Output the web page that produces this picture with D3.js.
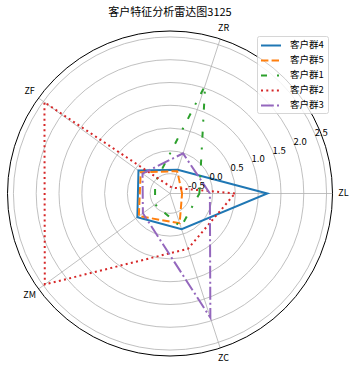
<!DOCTYPE html>
<html><head><meta charset="utf-8">
<script src="https://cdn.jsdelivr.net/npm/d3@7"></script>
<style>body{margin:0;background:#fff;}svg{display:block;font-family:"Noto Sans CJK SC","DejaVu Sans",sans-serif;}</style>
</head><body>
<svg id="c" width="359" height="374"></svg>
<script>
const title = "客户特征分析雷达图3125";
const categories = ["ZL", "ZR", "ZF", "ZM", "ZC"];
const seriesNames = ["客户群4", "客户群5", "客户群1", "客户群2", "客户群3"];
const group4 = [1.20, -0.39, -0.08, -0.05, -0.11];
const group5 = [-0.67, -0.42, -0.14, -0.09, -0.25];
const group1 = [-0.29, 1.56, -0.53, -0.53, -0.16];
const group2 = [0.49, -0.80, 2.47, 2.46, 0.34];
const group3 = [-0.06, -0.01, -0.19, -0.20, 1.93];
const radialTicks = [-0.5, 0.0, 0.5, 1.0, 1.5, 2.0, 2.5];
const rDomain = [-0.935, 2.63];

const seriesValues = [group4, group5, group1, group2, group3];
const colors = ["#1f77b4", "#ff7f0e", "#2ca02c", "#d62728", "#9467bd"];
const dashes = [null, "7.4,3.2", "6,10,2,10", "2,3.3", "12.8,3.2,2,3.2"];

const svg = d3.select("#c");
const cx = 170, cy = 193.5, R = 162.5;
const r = d3.scaleLinear().domain(rDomain).range([0, R]);
const theta = d3.scalePoint().domain(categories).range([0, 2 * Math.PI * 4 / 5]);
const g = svg.append("g").attr("transform", `translate(${cx},${cy})`);
const pt = (a, rad) => [rad * Math.cos(a), -rad * Math.sin(a)];

// grid circles
g.selectAll("circle.grid").data(radialTicks).join("circle")
  .attr("r", d => r(d)).attr("fill", "none").attr("stroke", "#b0b0b0").attr("stroke-width", 0.8);
// spokes
g.selectAll("line.spoke").data(categories).join("line")
  .attr("x1", 0).attr("y1", 0)
  .attr("x2", d => pt(theta(d), R)[0]).attr("y2", d => pt(theta(d), R)[1])
  .attr("stroke", "#b0b0b0").attr("stroke-width", 0.8);
// outer frame
g.append("circle").attr("r", R).attr("fill", "none").attr("stroke", "#000").attr("stroke-width", 1);

// series
const line = d3.lineRadial()
  .angle((d, i) => Math.PI / 2 - theta(categories[i]))
  .radius(d => r(d))
  .curve(d3.curveLinearClosed);
seriesValues.forEach((vals, k) => {
  g.append("path").attr("d", line(vals)).attr("fill", "none")
    .attr("stroke", colors[k]).attr("stroke-width", 2)
    .attr("stroke-dasharray", dashes[k]).attr("stroke-linejoin", "miter");
});

// radial tick labels
const la = 22.5 * Math.PI / 180;
g.selectAll("text.rt").data(radialTicks).join("text")
  .attr("x", d => pt(la, r(d))[0]).attr("y", d => pt(la, r(d))[1])
  .attr("dominant-baseline", "middle").attr("text-anchor", "start")
  .attr("font-size", 9.5).attr("fill", "#000")
  .text(d => d.toFixed(1).replace("-", "\u2212").replace("\u2212", "-"));

// category labels
g.selectAll("text.cat").data(categories).join("text")
  .attr("x", d => pt(theta(d), R + 11)[0]).attr("y", d => pt(theta(d), R + 11)[1])
  .attr("text-anchor", "middle").attr("dominant-baseline", "middle")
  .attr("font-size", 9).attr("fill", "#000").text(d => d);

// title
svg.append("text").attr("x", 170).attr("y", 13).attr("text-anchor", "middle")
  .attr("dominant-baseline", "middle").attr("font-size", 11).text(title);

// legend
const lg = svg.append("g");
lg.append("rect").attr("x", 257.5).attr("y", 36.5).attr("width", 71).attr("height", 77)
  .attr("rx", 2).attr("fill", "#fff").attr("fill-opacity", 0.8).attr("stroke", "#cccccc").attr("stroke-width", 0.8);
seriesNames.forEach((name, k) => {
  const y = 45.5 + k * 15;
  lg.append("line").attr("x1", 261).attr("x2", 281).attr("y1", y).attr("y2", y)
    .attr("stroke", colors[k]).attr("stroke-width", 2).attr("stroke-dasharray", dashes[k]);
  lg.append("text").attr("x", 290).attr("y", y).attr("dominant-baseline", "middle")
    .attr("font-size", 9.5).text(name);
});
</script>
</body></html>
